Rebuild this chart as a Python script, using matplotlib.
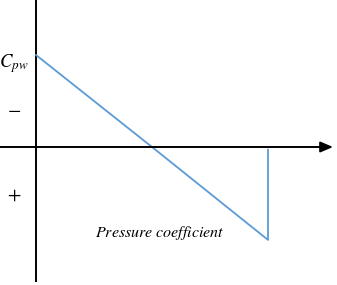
import matplotlib
matplotlib.use("Agg")
import matplotlib.pyplot as plt

# wall pressure coefficient along the wall (axis points downward = positive)
x_pos = [0, 1, 2, 2]
cpw = [-1.0, 0.0, 1.01, 0.03]

plt.rcParams["mathtext.fontset"] = "stix"

fig = plt.figure(figsize=(3.37, 2.85), dpi=100)
ax = fig.add_axes([0, 0, 1, 1])
ax.set_xlim(-36 / 116, 301 / 116)
ax.set_ylim(138 / 92, -147 / 92)
ax.axis("off")

# axes
ax.plot([0, 0], [-147 / 92, 135 / 92], color="black", lw=1.4, solid_capstyle="butt")
ax.annotate("", xy=(297 / 116, 0), xytext=(-36 / 116, 0),
            arrowprops=dict(arrowstyle="-|>,head_length=0.75,head_width=0.32",
                            color="black", lw=1.4, shrinkA=0, shrinkB=0))

ax.plot(x_pos, cpw, color="#5B9BD5", lw=1.3)

ax.text(-0.315, -0.91, r"$C_{pw}$", fontsize=13.5, ha="left", va="center")
ax.text(-0.185, -0.42, r"$-$", fontsize=14, ha="center", va="center")
ax.text(-0.185, 0.53, r"$+$", fontsize=14, ha="center", va="center")
ax.text(1.07, 0.93, r"$Pressure\ coefficient$", fontsize=11.5, ha="center",
        va="center")

fig.savefig("out.png", dpi=100)
